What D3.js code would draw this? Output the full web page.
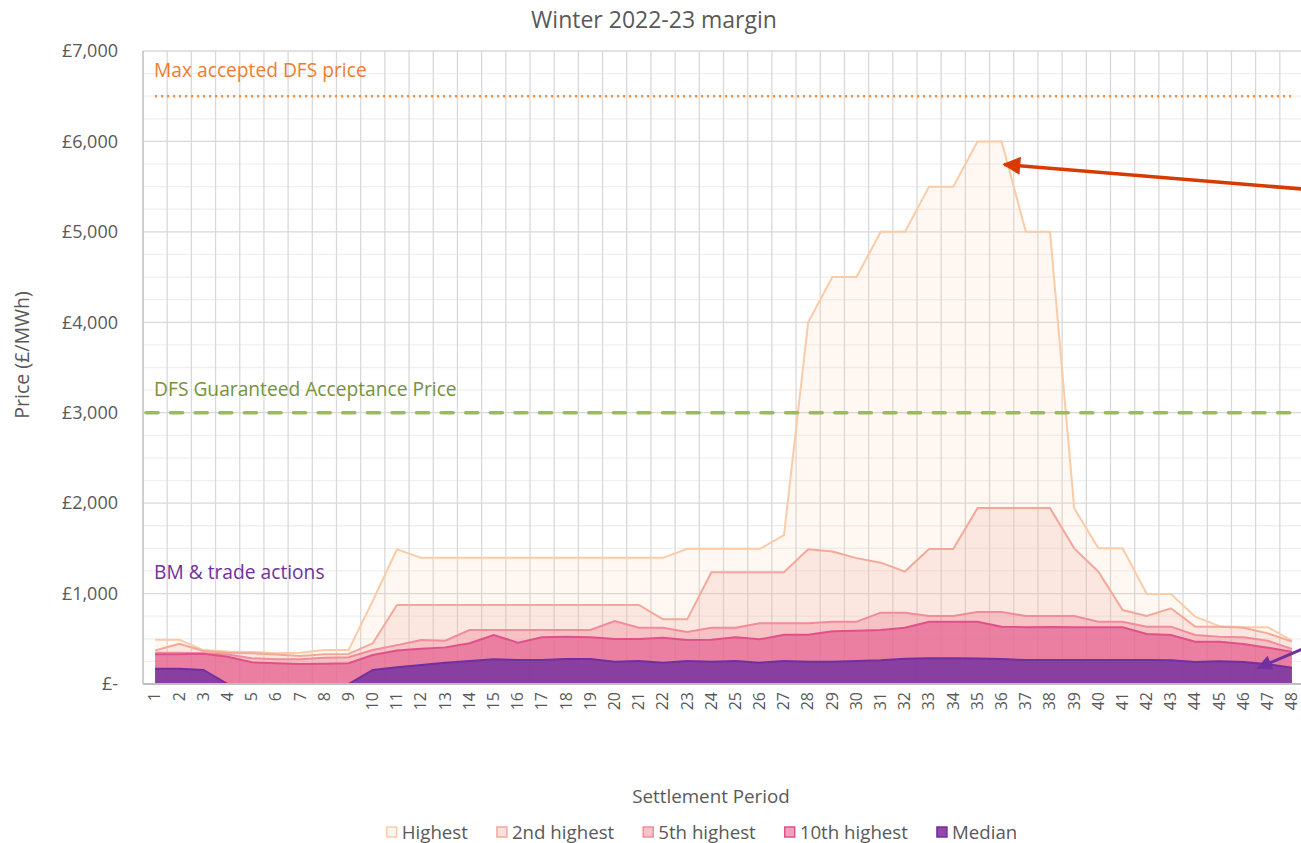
<!DOCTYPE html>
<html>
<head>
<meta charset="utf-8">
<script src="https://cdn.jsdelivr.net/npm/d3@7"></script>
<style>
  html, body { margin: 0; padding: 0; background: #fff; }
  svg { display: block; font-family: "Open Sans", "Noto Sans", sans-serif; }
</style>
</head>
<body>
<svg id="chart" width="1301" height="843"></svg>
<script>
// Settlement periods
const periods = [1,2,3,4,5,6,7,8,9,10,11,12,13,14,15,16,17,18,19,20,21,22,23,24,
                 25,26,27,28,29,30,31,32,33,34,35,36,37,38,39,40,41,42,43,44,45,46,47,48];

// Prices (£/MWh)
const highest = [490,490,375,360,355,340,345,375,375,920,1490,1395,1395,1395,1395,1395,1395,1395,1395,1395,
                 1395,1395,1495,1495,1495,1495,1645,4000,4500,4500,5000,5000,5500,5500,6000,6000,5000,5000,
                 1945,1500,1500,995,995,745,640,630,628,480];
const second  = [370,445,365,345,340,325,310,330,332,450,875,875,875,875,875,875,875,875,875,875,
                 875,715,715,1235,1235,1235,1235,1490,1465,1392,1342,1243,1493,1493,1945,1945,1945,1945,
                 1500,1242,818,752,837,634,634,623,560,468];
const fifth   = [345,345,340,325,285,275,275,290,295,375,430,487,478,597,597,597,597,597,597,697,
                 623,623,575,623,623,671,671,671,689,689,789,789,752,752,796,796,752,752,
                 752,689,689,634,634,542,523,516,479,387];
const tenth   = [328,328,335,302,240,229,221,225,229,321,370,390,405,450,542,457,516,523,516,498,
                 498,512,487,490,516,494,545,545,582,590,597,623,689,689,689,634,627,630,
                 627,627,627,553,542,468,468,442,402,357];
const median  = [170,168,155,0,0,0,0,0,0,155,184,210,236,255,273,265,265,276,276,247,
                 254,236,254,247,254,236,254,247,247,254,262,280,284,284,281,276,265,265,
                 265,265,265,265,262,243,251,243,218,181];

const seriesNames = ['Highest', '2nd highest', '5th highest', '10th highest', 'Median'];
const seriesValues = [highest, second, fifth, tenth, median];
const seriesStroke = ['#fbcba6', '#f4a89a', '#f08c9c', '#e0508a', '#7030a0'];
const seriesFillOpacity = [0.15, 0.2, 0.4, 0.58, 0.8];
const legendFill = ['#fef4ec', '#fce2dd', '#f7c3ca', '#efa0bb', '#9547a6'];

// Reference prices
const maxAcceptedDfs = 6500;
const guaranteedAcceptance = 3000;

const yTicks = [0, 1000, 2000, 3000, 4000, 5000, 6000, 7000];

// ── Layout ───────────────────────────────────────────────────────────────
const plot = { left: 143, top: 51, right: 1304, bottom: 684 };
const textGrey = '#595959';

const svg = d3.select('#chart');

const x = d3.scaleLinear().domain([0.5, 48.5]).range([plot.left, plot.right]);
const y = d3.scaleLinear().domain([0, 7000]).range([plot.bottom, plot.top]);

const fmt = v => v === 0 ? '£-' : '£' + d3.format(',')(v);

// ── Grid ─────────────────────────────────────────────────────────────────
const grid = svg.append('g');
const minorTicks = d3.range(250, 7000, 250).filter(v => v % 1000 !== 0);
grid.selectAll('line.minor').data(minorTicks).join('line')
  .attr('x1', plot.left).attr('x2', plot.right)
  .attr('y1', d => y(d)).attr('y2', d => y(d))
  .attr('stroke', '#f0f0f0').attr('stroke-width', 1.3);
grid.selectAll('line.vgrid').data(periods).join('line')
  .attr('x1', d => x(d + 0.5)).attr('x2', d => x(d + 0.5))
  .attr('y1', plot.top).attr('y2', plot.bottom)
  .attr('stroke', '#d9d9d9').attr('stroke-width', 1.3);
grid.selectAll('line.major').data(yTicks.slice(1)).join('line')
  .attr('x1', plot.left).attr('x2', plot.right)
  .attr('y1', d => y(d)).attr('y2', d => y(d))
  .attr('stroke', '#d9d9d9').attr('stroke-width', 1.3);

// ── Areas ────────────────────────────────────────────────────────────────
const area = d3.area().x((d, i) => x(periods[i])).y0(y(0)).y1(d => y(d));
const line = d3.line().x((d, i) => x(periods[i])).y(d => y(d));

const areas = svg.append('g');
seriesValues.forEach((vals, k) => {
  areas.append('path').datum(vals)
    .attr('d', area)
    .attr('fill', seriesStroke[k])
    .attr('fill-opacity', seriesFillOpacity[k]);
  areas.append('path').datum(vals)
    .attr('d', line)
    .attr('fill', 'none')
    .attr('stroke', seriesStroke[k])
    .attr('stroke-width', 2);
});

// ── Axes ─────────────────────────────────────────────────────────────────
svg.append('line')
  .attr('x1', plot.left).attr('x2', plot.right)
  .attr('y1', plot.bottom).attr('y2', plot.bottom)
  .attr('stroke', '#bfbfbf').attr('stroke-width', 2);
svg.append('line')
  .attr('x1', plot.left).attr('x2', plot.left)
  .attr('y1', plot.top).attr('y2', plot.bottom)
  .attr('stroke', '#bfbfbf').attr('stroke-width', 1.5);

const yAxis = svg.append('g')
  .attr('transform', `translate(${plot.left},0)`)
  .call(d3.axisLeft(y).tickValues(yTicks).tickFormat(fmt).tickSize(0).tickPadding(25));
yAxis.select('.domain').remove();
yAxis.selectAll('text').attr('fill', textGrey).style('font-size', '18px')
  .style('font-family', '"Open Sans", sans-serif');

const xAxis = svg.append('g')
  .attr('transform', `translate(0,${plot.bottom})`)
  .call(d3.axisBottom(x).tickValues(periods).tickFormat(d3.format('d')).tickSize(0));
xAxis.select('.domain').remove();
xAxis.selectAll('text')
  .attr('fill', textGrey).style('font-size', '16px')
  .style('font-family', '"Open Sans", sans-serif')
  .attr('text-anchor', 'end')
  .attr('transform', 'rotate(-90)')
  .attr('x', -8).attr('y', 0).attr('dy', '0.3em');

// ── Reference lines ──────────────────────────────────────────────────────
svg.append('line')
  .attr('x1', x(periods[0])).attr('x2', x(periods[periods.length - 1]))
  .attr('y1', y(maxAcceptedDfs)).attr('y2', y(maxAcceptedDfs))
  .attr('stroke', '#f08a45').attr('stroke-width', 2.5)
  .attr('stroke-dasharray', '2 4');
svg.append('line')
  .attr('x1', plot.left + 3).attr('x2', plot.right - 6)
  .attr('y1', y(guaranteedAcceptance)).attr('y2', y(guaranteedAcceptance))
  .attr('stroke', '#9bbb59').attr('stroke-width', 3.6)
  .attr('stroke-dasharray', '12 12.6').attr('stroke-linecap', 'round');

// ── Annotation labels ────────────────────────────────────────────────────
const labels = [
  { text: 'Max accepted DFS price', v: 6790, color: '#ed7d31' },
  { text: 'DFS Guaranteed Acceptance Price', v: 3260, color: '#77933c' },
  { text: 'BM & trade actions', v: 1240, color: '#7030a0' }
];
svg.append('g').selectAll('text').data(labels).join('text')
  .attr('x', x(periods[0]) - 1)
  .attr('y', d => y(d.v))
  .attr('dy', '0.35em')
  .attr('fill', d => d.color)
  .style('font-size', '19.2px')
  .text(d => d.text);

// ── Arrows ───────────────────────────────────────────────────────────────
const defs = svg.append('defs');
const arrows = [
  { id: 'arrRed', color: '#d83b01', from: [48.6, 5470], to: [36.1, 5745], w: 3.6 },
  { id: 'arrPurple', color: '#7030a0', from: [48.6, 405], to: [46.6, 178], w: 3 }
];
arrows.forEach(a => {
  defs.append('marker')
    .attr('id', a.id).attr('viewBox', '0 0 10 10')
    .attr('refX', 9).attr('refY', 5)
    .attr('markerWidth', 6).attr('markerHeight', 5)
    .attr('orient', 'auto')
    .append('path').attr('d', 'M0,0 L10,5 L0,10 Z').attr('fill', a.color);
  svg.append('line')
    .attr('x1', x(a.from[0])).attr('y1', y(a.from[1]))
    .attr('x2', x(a.to[0])).attr('y2', y(a.to[1]))
    .attr('stroke', a.color).attr('stroke-width', a.w)
    .attr('marker-end', `url(#${a.id})`);
});

// ── Titles ───────────────────────────────────────────────────────────────
svg.append('text')
  .attr('x', 654).attr('y', 20).attr('dy', '0.35em')
  .attr('text-anchor', 'middle').attr('fill', textGrey)
  .style('font-size', '23px').text('Winter 2022-23 margin');

svg.append('text')
  .attr('transform', `translate(22,355) rotate(-90)`)
  .attr('text-anchor', 'middle').attr('dy', '0.35em').attr('fill', textGrey)
  .style('font-size', '19.5px').text('Price (£/MWh)');

svg.append('text')
  .attr('x', 711).attr('y', 796).attr('dy', '0.35em')
  .attr('text-anchor', 'middle').attr('fill', textGrey)
  .style('font-size', '18.8px').text('Settlement Period');

// ── Legend ───────────────────────────────────────────────────────────────
const legend = svg.append('g');
const items = seriesNames.map((name, k) => {
  const g = legend.append('g');
  g.append('rect').attr('width', 10).attr('height', 10)
    .attr('fill', legendFill[k]).attr('stroke', seriesStroke[k]).attr('stroke-width', 1.5);
  const t = g.append('text').attr('x', 15).attr('y', 5).attr('dy', '0.35em')
    .attr('fill', textGrey).style('font-size', '18.7px').text(name);
  return { g, w: 15 + t.node().getComputedTextLength() };
});
const gap = 29;
const total = d3.sum(items, d => d.w) + gap * (items.length - 1);
let cx = 702 - total / 2;
items.forEach(it => {
  it.g.attr('transform', `translate(${cx},${827})`);
  cx += it.w + gap;
});
</script>
</body>
</html>
